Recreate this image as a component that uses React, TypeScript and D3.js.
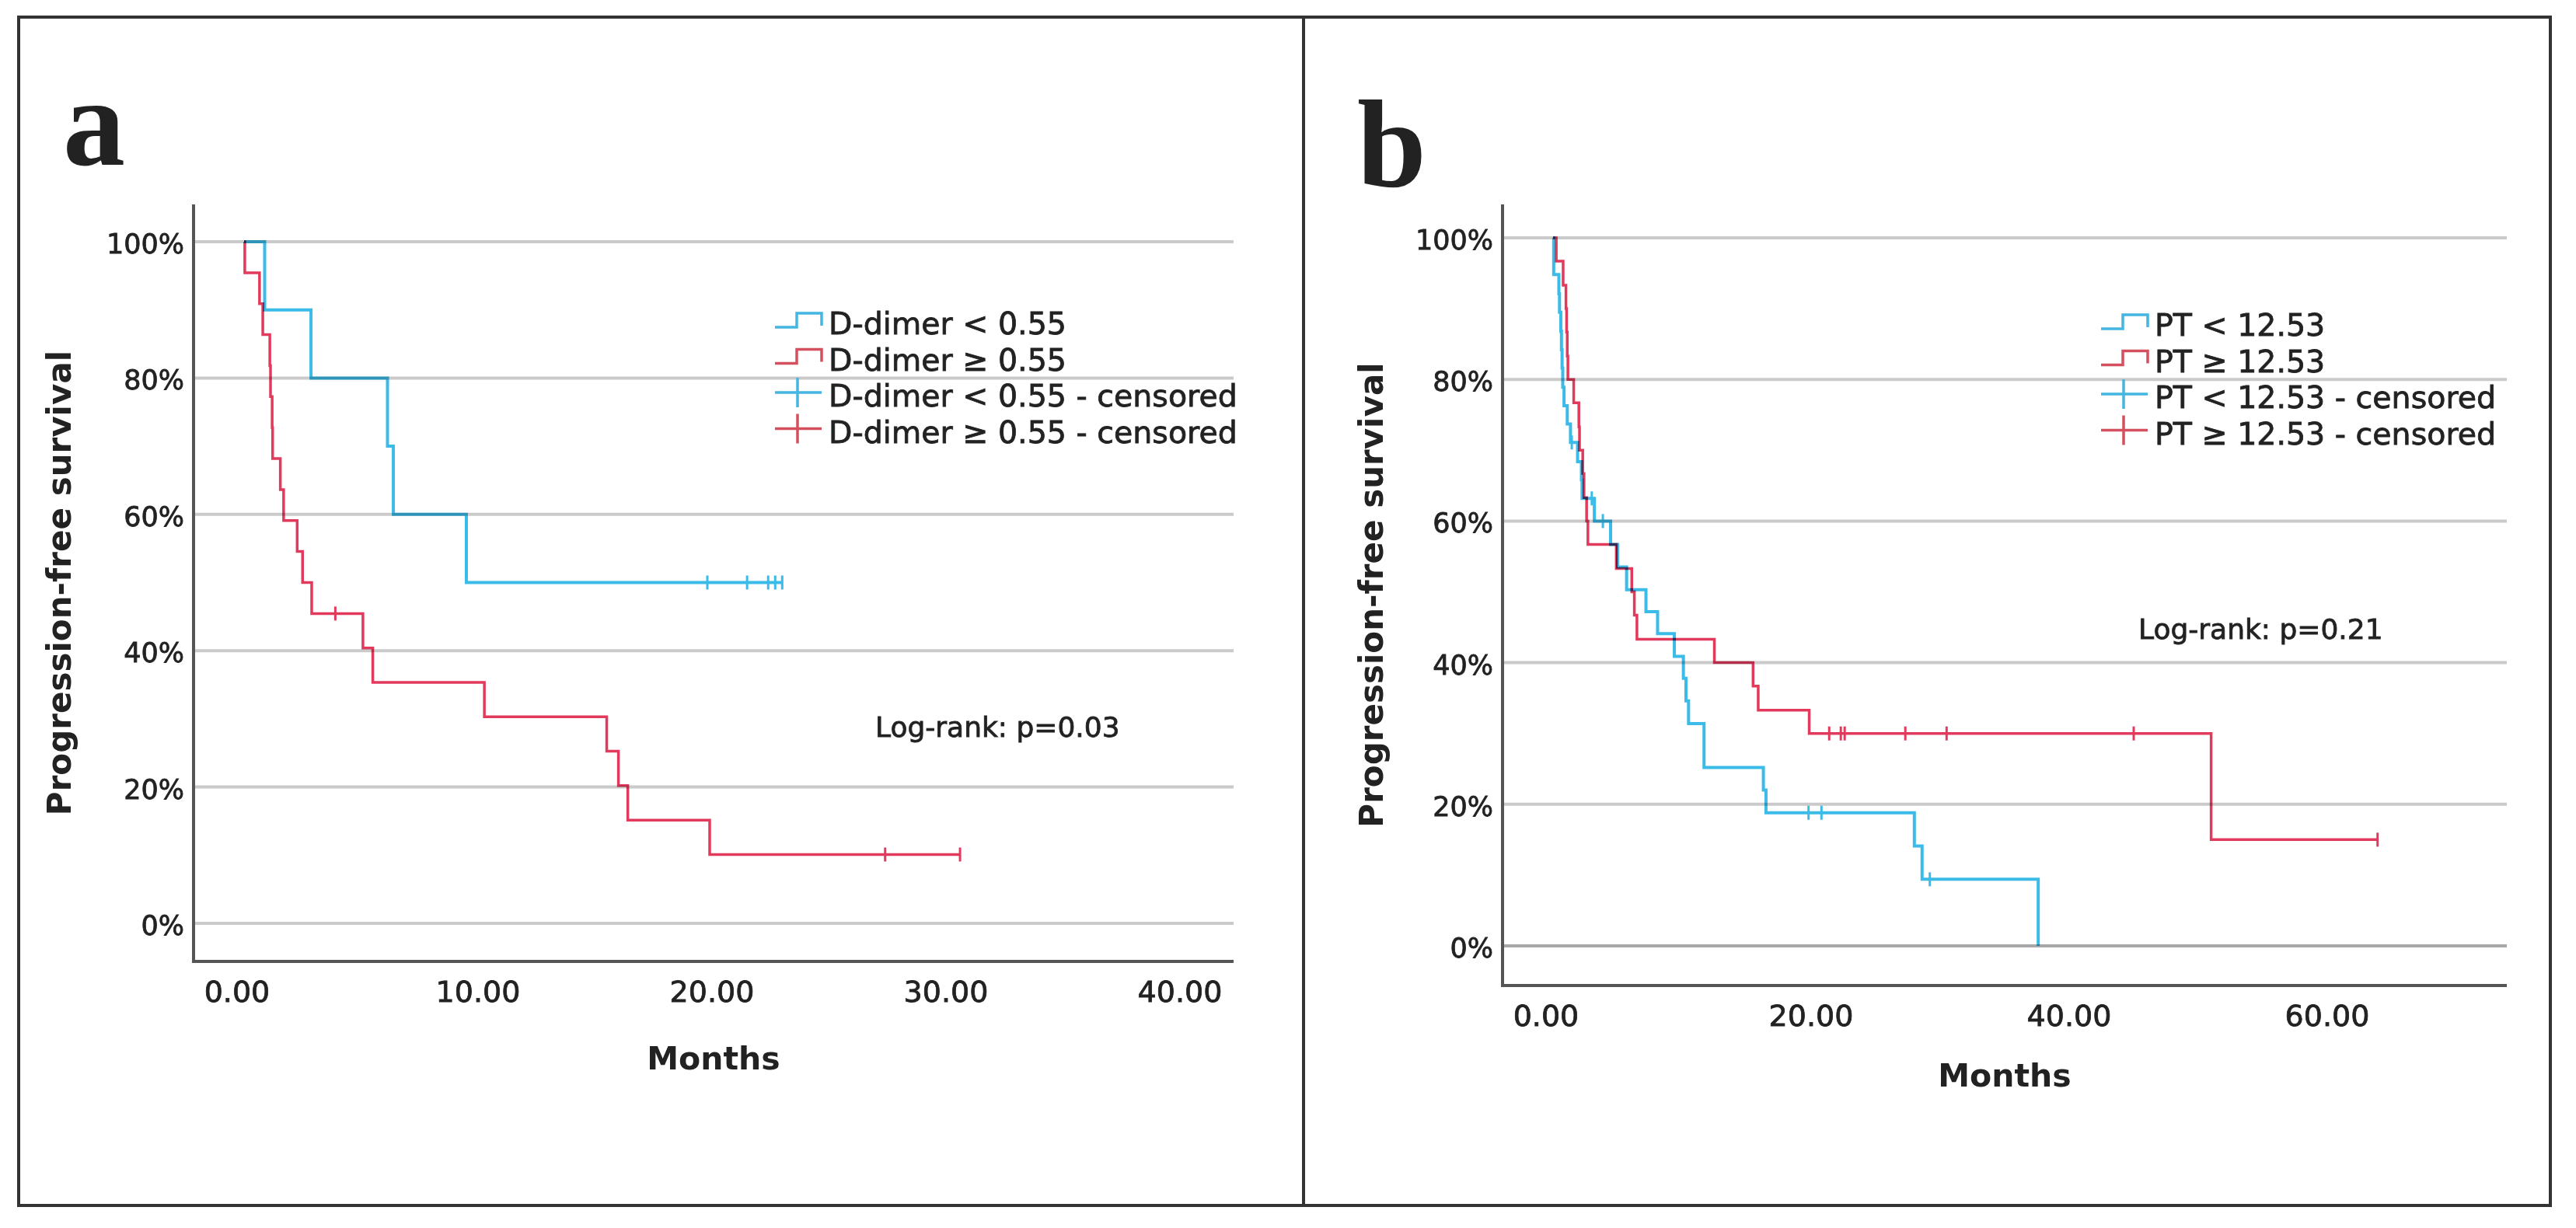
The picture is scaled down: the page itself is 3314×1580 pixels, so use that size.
import * as d3 from 'd3';

const WIDTH = 3314;
const HEIGHT = 1580;
const FONT = '"DejaVu Sans", sans-serif';
const BLUE = '#3bbbe8';
const RED = '#e23a5c';
const TEXT = '#222';

// [months, survival %] at each event
type Step = [number, number];

// panel a: D-dimer
const dDimerLowSteps: Step[] = [
  [0.88, 90], [2.86, 80], [6.13, 70], [6.38, 60], [9.5, 50],
];
const dDimerLowCensored = [19.8, 21.5, 22.4, 22.7, 23.0];
const dDimerHighSteps: Step[] = [
  [0.03, 95.45], [0.66, 90.91], [0.8, 86.36], [1.1, 81.82], [1.13, 77.27],
  [1.2, 72.73], [1.22, 68.18], [1.55, 63.64], [1.69, 59.09], [2.27, 54.55],
  [2.5, 50.0], [2.89, 45.45], [5.08, 40.4], [5.5, 35.35], [10.27, 30.3],
  [15.5, 25.25], [16.0, 20.2], [16.4, 15.15], [19.9, 10.1],
];
const dDimerHighCensored = [3.9, 27.4, 30.6];
const dDimerTicks = [0, 10, 20, 30, 40];
const dDimerLegend = ['D-dimer < 0.55', 'D-dimer ≥ 0.55', 'D-dimer < 0.55 - censored', 'D-dimer ≥ 0.55 - censored'];
const dDimerLogRank = 'Log-rank: p=0.03';

// panel b: PT
const ptLowSteps: Step[] = [
  [0.05, 94.8], [0.45, 92.1], [0.5, 89.5], [0.6, 86.8], [0.65, 84.2],
  [0.7, 81.6], [0.75, 78.9], [0.85, 76.3], [1.1, 73.7], [1.35, 71.1],
  [1.9, 68.4], [2.2, 65.8], [2.25, 63.2], [3.2, 60.0], [4.46, 56.7],
  [5.0, 53.5], [5.7, 50.3], [7.2, 47.2], [8.1, 44.1], [9.4, 40.9],
  [10.1, 37.8], [10.3, 34.6], [10.5, 31.4], [11.7, 25.2], [16.3, 22.0],
  [16.5, 18.8], [28.0, 14.1], [28.6, 9.4], [37.6, 0],
];
const ptLowCensored = [1.45, 3.0, 3.86, 19.8, 20.8, 29.2];
const ptHighSteps: Step[] = [
  [0.25, 96.7], [0.78, 93.3], [1.0, 90.0], [1.05, 86.7], [1.1, 83.3],
  [1.15, 80.0], [1.6, 76.7], [2.0, 73.3], [2.05, 70.0], [2.3, 66.7],
  [2.4, 63.3], [2.6, 60.0], [2.7, 56.7], [4.9, 53.3], [6.1, 50.0],
  [6.3, 46.7], [6.5, 43.3], [12.5, 40.0], [15.5, 36.7], [15.9, 33.3],
  [19.85, 30.0], [51.0, 15.0],
];
const ptHighCensored = [21.4, 22.3, 22.6, 27.3, 30.5, 45.0, 63.9];
const ptTicks = [0, 20, 40, 60];
const ptLegend = ['PT < 12.53', 'PT ≥ 12.53', 'PT < 12.53 - censored', 'PT ≥ 12.53 - censored'];
const ptLogRank = 'Log-rank: p=0.21';

const survivalTicks = [0, 20, 40, 60, 80, 100];

type Layout = {
  letter: string;
  letterX: number;
  letterY: number;
  axisLeft: number;
  axisRight: number;
  axisTop: number;
  axisBottom: number;
  xRange: [number, number];
  xDomain: [number, number];
  yRange: [number, number];
  yTitleX: number;
  xTitleY: number;
  legendX: number;
  legendY: number;
  logRankX: number;
  logRankY: number;
  zeroGrid: string;
};

type Props = {
  layout: Layout;
  lowSteps: Step[];
  lowCensored: number[];
  highSteps: Step[];
  highCensored: number[];
  ticks: number[];
  legend: string[];
  logRank: string;
};

// heavier text, closer to the original's rendering
const label = {fontFamily: FONT, fill: TEXT, stroke: TEXT, strokeWidth: 0.8};

function survivalAt(steps: Step[], t: number) {
  let s = 100;
  steps.forEach(([time, v]) => {
    if (time <= t) s = v;
  });
  return s;
}

function KMPanel({layout: L, lowSteps, lowCensored, highSteps, highCensored, ticks, legend, logRank}: Props) {
  const x = d3.scaleLinear().domain(L.xDomain).range(L.xRange);
  const y = d3.scaleLinear().domain([0, 100]).range(L.yRange);
  const fmt = d3.format('.2f');

  const line = d3
    .line<Step>()
    .x((d) => x(d[0]))
    .y((d) => y(d[1]))
    .curve(d3.curveStepAfter);

  const curve = (steps: Step[], censored: number[]) => {
    const last = steps[steps.length - 1];
    const end = Math.max(last[0], d3.max(censored) ?? 0);
    return line([[0, 100], ...steps, [end, last[1]]])!;
  };

  const groups = [
    {steps: highSteps, censored: highCensored, color: RED, width: 3.5},
    {steps: lowSteps, censored: lowCensored, color: BLUE, width: 4},
  ];

  const rowGap = 46.5;
  const lx = L.legendX;

  return (
    <g>
      <text x={L.letterX} y={L.letterY} fontFamily='"Liberation Serif", serif' fontWeight="bold" fontSize={160} fill={TEXT}>
        {L.letter}
      </text>

      {survivalTicks.map((v) => (
        <line
          key={v}
          x1={L.axisLeft}
          x2={L.axisRight}
          y1={y(v)}
          y2={y(v)}
          stroke={v === 0 ? L.zeroGrid : '#cacaca'}
          strokeWidth={4}
        />
      ))}
      <path
        d={`M${L.axisLeft},${L.axisTop}V${L.axisBottom}H${L.axisRight}`}
        fill="none"
        stroke="#555"
        strokeWidth={4}
      />

      {survivalTicks.map((v) => (
        <text key={v} x={L.axisLeft - 12} y={y(v) + 3} textAnchor="end" dominantBaseline="central" fontSize={35} {...label}>
          {`${v}%`}
        </text>
      ))}
      {ticks.map((v, i) => (
        <text key={v} x={x(v) - (i === 0 ? 9 : 0)} y={L.axisBottom + 52} textAnchor="middle" fontSize={38} {...label}>
          {fmt(v)}
        </text>
      ))}

      <text
        x={(L.axisLeft + L.axisRight) / 2}
        y={L.xTitleY}
        textAnchor="middle"
        fontFamily={FONT}
        fontWeight="bold"
        fontSize={41}
        fill={TEXT}
      >
        Months
      </text>
      <text
        transform={`translate(${L.yTitleX},${(L.axisTop + L.axisBottom) / 2}) rotate(-90)`}
        textAnchor="middle"
        fontFamily={FONT}
        fontWeight="bold"
        fontSize={42}
        fill={TEXT}
      >
        Progression-free survival
      </text>

      {groups.map((g, i) => (
        <g key={i} style={{mixBlendMode: 'multiply'}}>
          <path d={curve(g.steps, g.censored)} fill="none" stroke={g.color} strokeWidth={g.width} />
          {g.censored.map((t, j) => (
            <line
              key={j}
              x1={x(t)}
              x2={x(t)}
              y1={y(survivalAt(g.steps, t)) - 9}
              y2={y(survivalAt(g.steps, t)) + 9}
              stroke={g.color}
              strokeWidth={3}
            />
          ))}
        </g>
      ))}

      {legend.map((text, i) => {
        const c = L.legendY + i * rowGap;
        const color = i % 2 === 0 ? '#45b5e2' : '#d4505e';
        const symbol =
          i < 2
            ? `M${lx},${c + 9}H${lx + 28}V${c - 9}H${lx + 60}V${c + 7}`
            : `M${lx},${c}H${lx + 60}M${lx + 29},${c - 19}V${c + 19}`;
        return (
          <g key={text}>
            <path d={symbol} fill="none" stroke={color} strokeWidth={3.5} />
            <text x={lx + 69} y={c + 18} fontSize={39.5} {...label}>
              {text}
            </text>
          </g>
        );
      })}

      <text x={L.logRankX} y={L.logRankY} fontSize={36} {...label}>
        {logRank}
      </text>
    </g>
  );
}

const layoutA: Layout = {
  letter: 'a',
  letterX: 81,
  letterY: 212,
  axisLeft: 249,
  axisRight: 1587,
  axisTop: 263,
  axisBottom: 1237,
  xRange: [314, 1518],
  xDomain: [0, 40],
  yRange: [1188, 311],
  yTitleX: 91,
  xTitleY: 1376,
  legendX: 997,
  legendY: 412,
  logRankX: 1126,
  logRankY: 948,
  zeroGrid: '#cacaca',
};

const layoutB: Layout = {
  letter: 'b',
  letterX: 1746,
  letterY: 240,
  axisLeft: 1933,
  axisRight: 3225,
  axisTop: 263,
  axisBottom: 1268,
  xRange: [1998, 2994],
  xDomain: [0, 60],
  yRange: [1217, 306],
  yTitleX: 1779,
  xTitleY: 1398,
  legendX: 2703,
  legendY: 414,
  logRankX: 2751,
  logRankY: 822,
  zeroGrid: '#a8a8a8',
};

export default function App() {
  return (
    <svg
      width={WIDTH}
      height={HEIGHT}
      viewBox={`0 0 ${WIDTH} ${HEIGHT}`}
      style={{position: 'absolute', left: 0, top: 0, background: '#fff'}}
    >
      <rect x={0} y={0} width={WIDTH} height={HEIGHT} fill="#fff" />
      <rect x={24} y={22} width={3281 - 24} height={1551 - 22} fill="none" stroke="#333" strokeWidth={4} />
      <line x1={1677} x2={1677} y1={22} y2={1551} stroke="#333" strokeWidth={4} />
      <KMPanel
        layout={layoutA}
        lowSteps={dDimerLowSteps}
        lowCensored={dDimerLowCensored}
        highSteps={dDimerHighSteps}
        highCensored={dDimerHighCensored}
        ticks={dDimerTicks}
        legend={dDimerLegend}
        logRank={dDimerLogRank}
      />
      <KMPanel
        layout={layoutB}
        lowSteps={ptLowSteps}
        lowCensored={ptLowCensored}
        highSteps={ptHighSteps}
        highCensored={ptHighCensored}
        ticks={ptTicks}
        legend={ptLegend}
        logRank={ptLogRank}
      />
    </svg>
  );
}
